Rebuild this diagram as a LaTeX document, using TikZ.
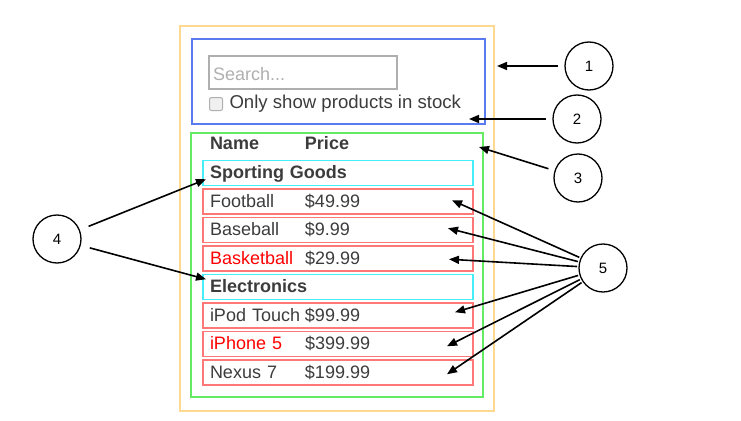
\documentclass[tikz,border=0pt]{standalone}
\usepackage{fontspec}
\setmainfont{Liberation Sans}
\usetikzlibrary{positioning,arrows.meta
  ,matrix}
\definecolor{myorange}{RGB}{255,217,143}
\definecolor{myblue}{RGB}{90,123,240}
\definecolor{mygreen}{RGB}{100,235,100}
\definecolor{mycyan}{RGB}{70,238,248}
\definecolor{myred}{RGB}{255,120,120}
\definecolor{mytext}{RGB}{60,60,60}
\definecolor{mygrey}{RGB}{175,175,175}
\newcommand\namecol[1]{\makebox[95pt][l]{#1}}
\tikzset{
tablepic/.style={
  x=1pt,y=-1pt
    ,inner sep=0pt
    ,outer sep=0pt
    ,font=\fontsize{18pt}{21pt}\selectfont
}
,frame/.style={draw,line width=1.5pt}
,plain/.style={text=mytext,text height=13pt,text depth=4pt}
,searchbox/.style={draw=mygrey,line width=1.5pt
  ,minimum height=33pt,text width=180pt,inner xsep=4pt
  ,text=mygrey,text height=15pt,text depth=0pt}
,chkbox/.style={draw=mygrey,fill=black!6,rounded corners=2pt
  ,line width=1pt,minimum size=13pt}
,hdr/.style={plain,font=\fontsize{18pt}{21pt}\selectfont\bfseries
  ,text height=14pt,text depth=2pt}
,row/.style={line width=1.5pt,inner xsep=7pt,inner ysep=0pt,outer sep=0pt
  ,text width=256pt,minimum height=25pt
  ,text=mytext,text height=14pt,text depth=2pt}
,cat/.style={row,draw=mycyan,font=\fontsize{18pt}{21pt}\selectfont\bfseries}
,item/.style={row,draw=myred}
,stack/.style={ column sep=0pt, row sep=2pt}
,callout/.style={circle,draw,line width=1.3pt,minimum size=48pt
  ,font=\fontsize{15pt}{18pt}\selectfont}
,callarrow/.style={-{Triangle[length=10pt,width=8pt]},line width=1.6pt
  ,shorten <=7pt}
}
\begin{document}
\begin{tikzpicture}[tablepic]
  \useasboundingbox (0,0) rectangle (741,420);
  % frames
  \node[frame,draw=myorange,minimum width=314pt,minimum height=385pt] (app) at (337,218.5) {};
  \node[frame,draw=myblue,minimum width=293pt,minimum height=85pt] (bar) at (338.5,81.5) {};
  \node[frame,draw=mygreen,minimum width=292pt,minimum height=264pt] (tbl) at (337,265) {};
  % search bar
  \node[searchbox] (search) at (303,72.5) {Search...};
  \node[chkbox] (chk) at (216,104) {};
  \node[plain,right=7pt of chk,font=\fontsize{18.6pt}{21pt}\selectfont] (chklbl) {Only show products in stock};
  % product table
  \node[hdr,anchor=west] (head) at (210,143) {\namecol{Name}Price};
  \matrix[stack,anchor=north](rows) at (338,159.5){
    \node[cat] (sg) {Sporting Goods};
    \\
    \node[item] (fb) {\namecol{Football}\$49.99};
    \\
    \node[item] (bb) {\namecol{Baseball}\$9.99};
    \\
    \node[item] (bk) {\namecol{\color{red}Basketball}\$29.99};
    \\
    \node[cat] (el) {Electronics};
    \\
    \node[item] (ip) {\namecol{iPod Touch}\$99.99};
    \\
    \node[item] (ph) {\namecol{\color{red}iPhone 5}\$399.99};
    \\
    \node[item] (nx) {\namecol{Nexus 7}\$199.99};
    \\
  };
  % callouts
  \node[callout] (c1) at (589,66) {1};
  \node[callout] (c2) at (577,119) {2};
  \node[callout] (c3) at (578,178) {3};
  \node[callout] (c4) at (57,239) {4};
  \node[callout] (c5) at (603,268) {5};
  \coordinate (t1) at (497,66);
  \draw[callarrow] (c1) -- (t1);
  \draw[callarrow] (c2) -- ([xshift=-16pt,yshift=5pt]bar.south east);
  \draw[callarrow] (c3) -- ([xshift=-4pt,yshift=-14pt]tbl.north east);
  \draw[callarrow,shorten <=10pt] (c4) -- ([xshift=3pt,yshift=-6.5pt]sg.west);
  \draw[callarrow,shorten <=10pt] (c4) -- ([xshift=3pt,yshift=7.5pt]el.west);
  \foreach \r/\dx/\dy in {fb/-21/1,bb/-25/1.5,bk/-24/-1,ip/-18/3,ph/-26/-2.5,nx/-26/-2}
    \draw[callarrow,shorten <=2pt] (c5) -- ([xshift=\dx pt,yshift=\dy pt]\r.east);
\end{tikzpicture}
\end{document}
